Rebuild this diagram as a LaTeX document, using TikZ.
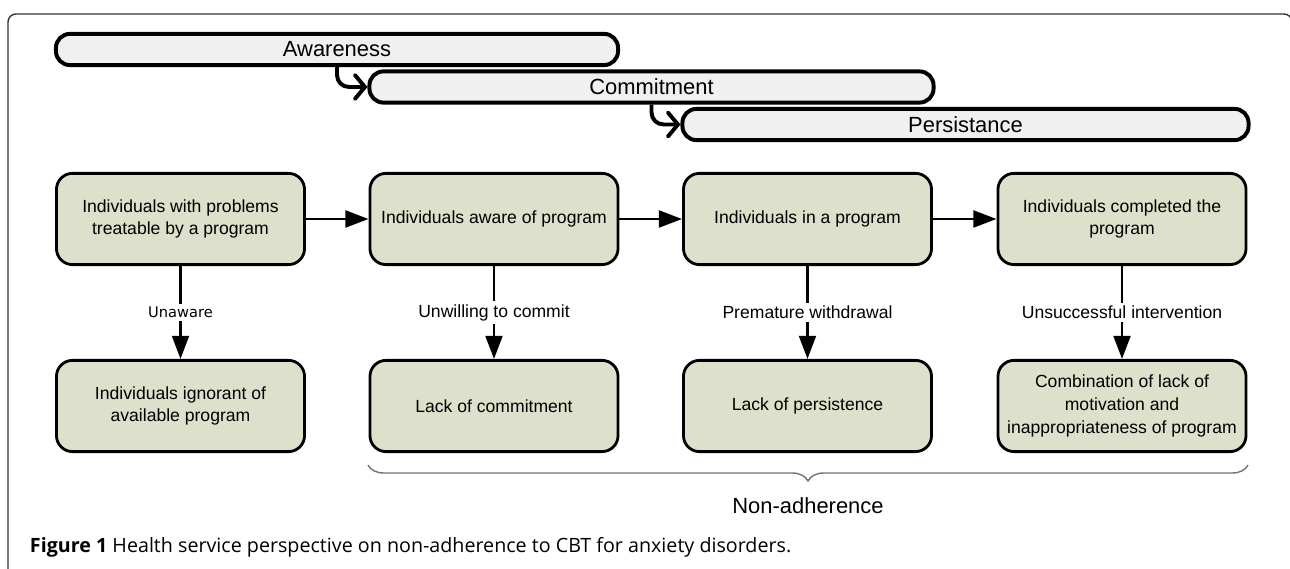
\documentclass[tikz,border=0pt]{standalone}
\usepackage{fontspec}
\setmainfont{Liberation Sans}
\newfontfamily\dejavu{DejaVu Sans}
\newfontfamily\opensans{Open Sans}
\usepackage{tikz}
\usetikzlibrary{arrows.meta}
\usetikzlibrary{decorations.pathreplacing}
\definecolor{stagefill}{RGB}{221,224,203}
\definecolor{pillfill}{RGB}{240,240,240}

\begin{document}
\begin{tikzpicture}[x=0.025cm, y=-0.025cm,
	pill/.style={draw=black, fill=pillfill, line width=2.8pt, rounded corners=0.35cm, minimum height=0.78cm, inner sep=0pt, font=\fontsize{15.6}{18}\selectfont},
	stage/.style={draw=black, fill=stagefill, line width=2pt, rounded corners=0.4cm, minimum width=6.2cm, minimum height=2.28cm, align=center, inner sep=0pt, font=\fontsize{12.5}{16.2}\selectfont},
	flow/.style={line width=2pt, -{Triangle[length=0.58cm, width=0.42cm]}},
	phase/.style={line width=2.8pt, rounded corners=0.3cm, -{Straight Barb[length=0.25cm, width=0.6cm, line cap=round]}},
	why/.style={fill=white, inner sep=2pt, font=\fontsize{12.5}{15}\selectfont}]
	\useasboundingbox (0,0) rectangle (1290,569);

	% frame of the figure
	\draw[black!80, line width=1pt, rounded corners=0.2cm] (8,575) -- (8,14) -- (1292,14) -- (1292,40);

	% phases
	\node[pill, minimum width=14.05cm] (aware) at (337,49.5) {Awareness};
	\node[pill, minimum width=14.1cm] (commit) at (651.5,87) {Commitment};
	\node[pill, minimum width=14.15cm] (persist) at (965.5,124.5) {Persistance};
	\draw[phase] (aware.south) |- (commit.west);
	\draw[phase] (commit.south) |- (persist.west);

	% stages
	\node[stage] (s1) at (180.5,219) {Individuals with problems\\treatable by a program};
	\node[stage] (s2) at (494,219) {Individuals aware of program};
	\node[stage] (s3) at (807.5,219) {Individuals in a program};
	\node[stage] (s4) at (1122,219) {Individuals completed the\\program};

	\node[stage] (d1) at (180.5,406) {Individuals ignorant of\\available program};
	\node[stage] (d2) at (494,406) {Lack of commitment};
	\node[stage] (d3) at (807.5,406) {Lack of persistence};
	\node[stage] (d4) at (1122,406) {Combination of lack of\\motivation and\\inappropriateness of program};

	\draw[flow] (s1) -- (s2);
	\draw[flow] (s2) -- (s3);
	\draw[flow] (s3) -- (s4);

	\draw[flow] (s1) -- node[why, font=\dejavu\fontsize{10.4}{12}\selectfont] {Unaware} (d1);
	\draw[flow] (s2) -- node[why] {Unwilling to commit} (d2);
	\draw[flow] (s3) -- node[why] {Premature withdrawal} (d3);
	\draw[flow] (s4) -- node[why] {Unsuccessful intervention} (d4);

	% non-adherence
	\coordinate (bl) at (368,465);
	\coordinate (br) at (1248,465);
	\draw[black!55, line width=1pt, decorate, decoration={brace, amplitude=0.4cm}] (br) -- (bl);
	\node[font=\fontsize{15.6}{18}\selectfont] (nonadh) at (808,506) {Non-adherence};

	\node[anchor=base west, font=\opensans\fontsize{14}{16}\selectfont] (caption) at (25,553) {\textbf{Figure 1} Health service perspective on non-adherence to CBT for anxiety disorders.};
\end{tikzpicture}
\end{document}
